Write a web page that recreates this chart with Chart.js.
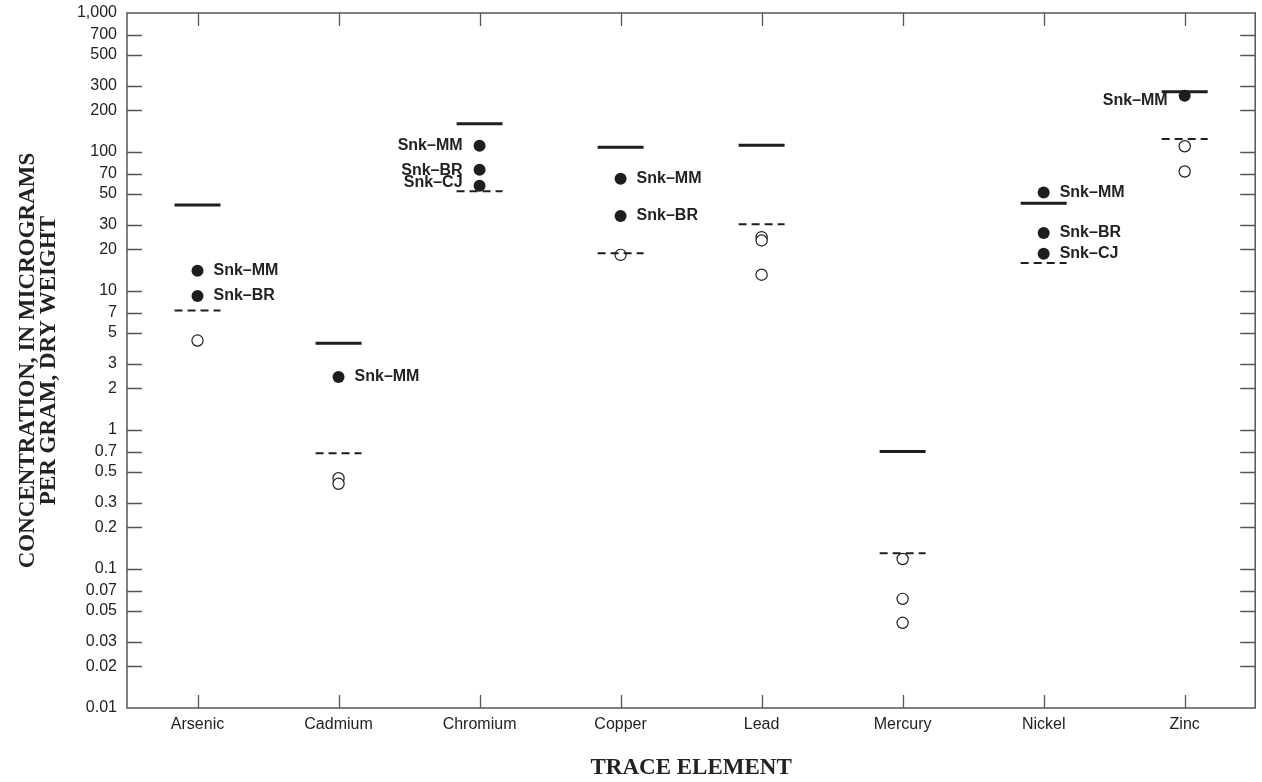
<!DOCTYPE html>
<html>
<head>
<meta charset="utf-8">
<title>Trace elements in sediment</title>
<script src="https://cdn.jsdelivr.net/npm/chart.js@4.4.1/dist/chart.umd.min.js"></script>
<style>
  html, body { margin: 0; padding: 0; background: #ffffff; }
  canvas { display: block; }
</style>
</head>
<body>
<canvas id="chart" width="1262" height="782"></canvas>
<script>
// Trace elements along the x axis
const elements = ['Arsenic', 'Cadmium', 'Chromium', 'Copper', 'Lead', 'Mercury', 'Nickel', 'Zinc'];

// Sediment guideline levels, micrograms per gram dry weight
const probableEffectLevel = [41.6, 4.21, 160, 108, 112, 0.70, 42.8, 271];
const thresholdEffectLevel = [7.24, 0.68, 52.3, 18.7, 30.2, 0.13, 15.9, 124];

// Named sites (filled markers), null where the site has no value
const siteMM = [14.0, 2.41, 111, 64.1, null, null, 51.1, 254];
const siteBR = [9.2, null, 74.5, 34.7, null, null, 26.1, null];
const siteCJ = [null, null, 57.1, null, null, null, 18.5, null];
const siteNames = ['Snk\u2013MM', 'Snk\u2013BR', 'Snk\u2013CJ'];

// Other samples (open markers), one list per element
const otherSamples = [
  [4.4],
  [0.45, 0.41],
  [],
  [18.2],
  [24.4, 23.1, 13.1],
  [0.118, 0.061, 0.041],
  [],
  [110, 72.4]
];

// Log axis ticks and their labels
const yTickValues = [1000, 700, 500, 300, 200, 100, 70, 50, 30, 20, 10, 7, 5, 3, 2, 1,
  0.7, 0.5, 0.3, 0.2, 0.1, 0.07, 0.05, 0.03, 0.02, 0.01];
const yTickLabels = ['1,000', '700', '500', '300', '200', '100', '70', '50', '30', '20', '10', '7', '5', '3', '2', '1',
  '0.7', '0.5', '0.3', '0.2', '0.1', '0.07', '0.05', '0.03', '0.02', '0.01'];

// ---- drawing setup ----
const INK = '#1e1e1e';
const TEXT = '#222222';
const FRAME = '#555555';
const LEVEL_HALF_WIDTH = 0.163;   // half length of a guideline bar, in category units

// label side for each element and small vertical shifts where labels crowd
const labelSide = ['right', 'right', 'left', 'right', 'right', 'right', 'right', 'left'];
const labelShift = { 2: { 'Snk\u2013BR': 1, 'Snk\u2013CJ': -3 }, 7: { 'Snk\u2013MM': 5 } };

function levelSegments(values) {
  const pts = [];
  values.forEach((v, i) => {
    pts.push({ x: i - LEVEL_HALF_WIDTH, y: v }, { x: i + LEVEL_HALF_WIDTH, y: v }, { x: i + 0.5, y: null });
  });
  return pts;
}

function sitePoints(values) {
  const pts = [];
  values.forEach((v, i) => { if (v !== null) pts.push({ x: i, y: v }); });
  return pts;
}

function otherPoints(lists) {
  const pts = [];
  lists.forEach((list, i) => list.forEach(v => pts.push({ x: i, y: v })));
  return pts;
}

const datasets = [
  {
    type: 'line', label: 'Probable effect level', data: levelSegments(probableEffectLevel),
    borderColor: INK, borderWidth: 3, pointRadius: 0, spanGaps: false, fill: false
  },
  {
    type: 'line', label: 'Threshold effect level', data: levelSegments(thresholdEffectLevel),
    borderColor: INK, borderWidth: 2, borderDash: [8, 5], pointRadius: 0, spanGaps: false, fill: false
  },
  {
    type: 'scatter', label: siteNames[0], data: sitePoints(siteMM), site: true,
    pointRadius: 6, pointBackgroundColor: INK, pointBorderColor: INK, pointBorderWidth: 0
  },
  {
    type: 'scatter', label: siteNames[1], data: sitePoints(siteBR), site: true,
    pointRadius: 6, pointBackgroundColor: INK, pointBorderColor: INK, pointBorderWidth: 0
  },
  {
    type: 'scatter', label: siteNames[2], data: sitePoints(siteCJ), site: true,
    pointRadius: 6, pointBackgroundColor: INK, pointBorderColor: INK, pointBorderWidth: 0
  },
  {
    type: 'scatter', label: 'Other samples', data: otherPoints(otherSamples),
    pointRadius: 5.6, pointBackgroundColor: '#ffffff', pointBorderColor: INK, pointBorderWidth: 1.2
  }
];

// Frame around the plot with inward tick marks on all four sides
const framePlugin = {
  id: 'frame',
  beforeDatasetsDraw(chart) {
    const { ctx, chartArea: a, scales } = chart;
    ctx.save();
    ctx.strokeStyle = FRAME;
    ctx.lineWidth = 1.5;
    ctx.strokeRect(a.left, a.top, a.right - a.left, a.bottom - a.top);
    ctx.lineWidth = 1.3;
    ctx.beginPath();
    yTickValues.forEach(v => {
      const y = Math.round(scales.y.getPixelForValue(v)) + 0.5;
      if (y <= a.top + 1 || y >= a.bottom - 1) return;
      ctx.moveTo(a.left, y); ctx.lineTo(a.left + 15, y);
      ctx.moveTo(a.right, y); ctx.lineTo(a.right - 15, y);
    });
    elements.forEach((_, i) => {
      const x = Math.round(scales.x.getPixelForValue(i)) + 0.5;
      ctx.moveTo(x, a.top); ctx.lineTo(x, a.top + 13);
      ctx.moveTo(x, a.bottom); ctx.lineTo(x, a.bottom - 13);
    });
    ctx.stroke();
    ctx.restore();
  }
};

// Site names next to the filled markers
const siteLabelPlugin = {
  id: 'siteLabels',
  afterDatasetsDraw(chart) {
    const { ctx } = chart;
    ctx.save();
    ctx.font = 'bold 16px "Liberation Sans", Arial, sans-serif';
    ctx.fillStyle = TEXT;
    ctx.textBaseline = 'middle';
    chart.data.datasets.forEach((ds, di) => {
      if (!ds.site) return;
      const meta = chart.getDatasetMeta(di);
      meta.data.forEach((pt, j) => {
        const idx = ds.data[j].x;
        const side = labelSide[idx];
        const shift = (labelShift[idx] && labelShift[idx][ds.label]) || 0;
        if (side === 'left') {
          ctx.textAlign = 'right';
          ctx.fillText(ds.label, pt.x - 17, pt.y + shift);
        } else {
          ctx.textAlign = 'left';
          ctx.fillText(ds.label, pt.x + 16, pt.y + shift);
        }
      });
    });
    ctx.restore();
  }
};

new Chart(document.getElementById('chart'), {
  data: { datasets },
  options: {
    responsive: false,
    animation: false,
    events: [],
    layout: { padding: { top: 13, right: 1, bottom: 0, left: 0 } },
    plugins: { legend: { display: false }, tooltip: { enabled: false } },
    scales: {
      x: {
        type: 'linear',
        position: 'bottom',
        min: -0.5,
        max: 7.5,
        afterBuildTicks(scale) { scale.ticks = elements.map((_, i) => ({ value: i })); },
        afterFit(scale) { scale.height = 74; scale.paddingLeft = 0; scale.paddingRight = 0; },
        grid: { display: false, drawTicks: false },
        border: { display: false },
        ticks: {
          autoSkip: false,
          maxRotation: 0,
          padding: 7,
          color: TEXT,
          font: { family: '"Liberation Sans", Arial, sans-serif', size: 16 },
          callback: (v) => elements[v]
        },
        title: {
          display: true,
          text: 'TRACE ELEMENT',
          color: TEXT,
          padding: 0,
          font: { family: '"Liberation Serif", "Times New Roman", serif', size: 23, weight: 'bold', lineHeight: '28px' }
        }
      },
      y: {
        type: 'logarithmic',
        position: 'left',
        min: 0.01,
        max: 1000,
        afterBuildTicks(scale) { scale.ticks = yTickValues.map(v => ({ value: v })); },
        afterFit(scale) { scale.width = 127; scale.paddingTop = 0; scale.paddingBottom = 0; },
        grid: { display: false, drawTicks: false },
        border: { display: false },
        ticks: {
          autoSkip: false,
          padding: 10,
          color: TEXT,
          font: { family: '"Liberation Sans", Arial, sans-serif', size: 16 },
          callback: (v) => {
            const k = yTickValues.findIndex(t => Math.abs(t - v) < t * 1e-6);
            return k >= 0 ? yTickLabels[k] : '';
          }
        },
        title: {
          display: true,
          text: ['CONCENTRATION, IN MICROGRAMS', 'PER GRAM, DRY WEIGHT'],
          color: TEXT,
          padding: { top: 18, bottom: 0 },
          font: { family: '"Liberation Serif", "Times New Roman", serif', size: 23, weight: 'bold', lineHeight: '21px' }
        }
      }
    }
  },
  plugins: [framePlugin, siteLabelPlugin]
});
</script>
</body>
</html>
